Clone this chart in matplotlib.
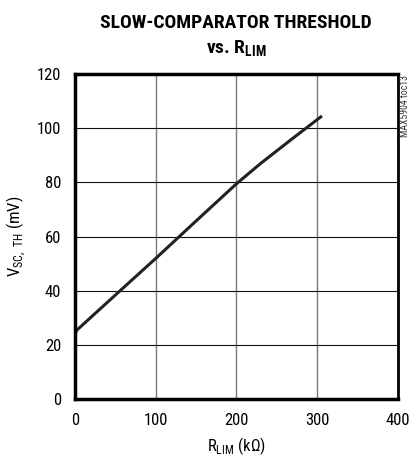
import matplotlib
matplotlib.use("Agg")
import matplotlib.pyplot as plt

# data
rlim = [0, 2, 50, 100, 150, 200, 230, 270, 306]
vsc = [24.0, 25.5, 38.5, 52.0, 65.8, 79.5, 87.0, 96.3, 104.5]

xticks = [0, 100, 200, 300, 400]
yticks = [0, 20, 40, 60, 80, 100, 120]

narrow = ['Roboto Condensed', 'Arial Narrow', 'Archivo Narrow', 'PT Sans Narrow',
          'Liberation Sans Narrow', 'DejaVu Sans']
plt.rcParams['font.family'] = narrow

fig = plt.figure(figsize=(4.17, 4.65), dpi=100)
ax = fig.add_axes([0.18, 0.141, 0.774, 0.700])

ax.plot(rlim, vsc, color="#222222", linewidth=2.2, solid_capstyle="butt")

ax.set_xlim(0, 400)
ax.set_ylim(0, 120)
ax.set_xticks(xticks)
ax.set_yticks(yticks)
ax.tick_params(length=0, labelsize=12, pad=10)
ax.xaxis.grid(True, color="#7a7a7a", linewidth=1.0)
ax.yaxis.grid(True, color="#111111", linewidth=0.8)
ax.set_axisbelow(True)
for s in ax.spines.values():
    s.set_linewidth(2.5)
ax.spines['right'].set_linewidth(2.0)

ax.set_xlabel(r"R$_{\mathregular{LIM}}$ (k$\mathregular{\Omega}$)", fontsize=12, labelpad=5)
ax.set_ylabel(r"V$_{\mathregular{SC,\ TH}}$ (mV)", fontsize=12, labelpad=6)

fig.text(0.566, 0.951, "SLOW-COMPARATOR THRESHOLD", ha="center", va="center",
         fontsize=14, fontweight="heavy")
fig.text(0.566, 0.895, r"vs. R$_{\mathregular{LIM}}$", ha="center", va="center",
         fontsize=14, fontweight="heavy")
fig.text(0.972, 0.838, "MAX5904 toc13", rotation=90, ha="center", va="top",
         fontsize=7, color="#333333")

fig.savefig("out.png", dpi=100)
